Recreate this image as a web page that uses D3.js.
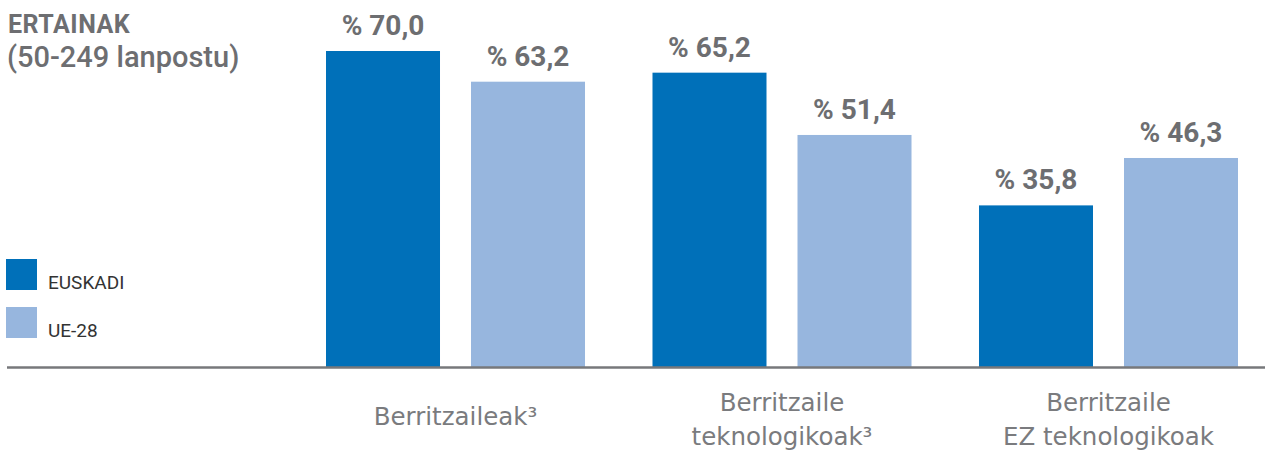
<!DOCTYPE html>
<html>
<head>
<meta charset="utf-8">
<script src="https://cdn.jsdelivr.net/npm/d3@7"></script>
<style>
  body { margin: 0; background: #fff; }
  svg { display: block; }
</style>
</head>
<body>
<div id="chart"></div>
<script>
const categories = ["Berritzaileak³", "Berritzaile\nteknologikoak³", "Berritzaile\nEZ teknologikoak"];
const series = ["EUSKADI", "UE-28"];
const euskadi = [70.0, 65.2, 35.8];
const ue28 = [63.2, 51.4, 46.3];
const colors = ["#0070b9", "#97b6de"];
const title = "ERTAINAK";
const subtitle = "(50-249 lanpostu)";

const width = 1265;
const height = 450;
const baseY = 367;
const grey = "#6d6e71";
const roboto = "Roboto, 'DejaVu Sans', sans-serif";

const rows = categories.map((c, i) => ({
  category: c,
  values: [
    { key: series[0], value: euskadi[i] },
    { key: series[1], value: ue28[i] },
  ],
}));

const svg = d3
  .select("#chart")
  .append("svg")
  .attr("width", width)
  .attr("height", height)
  .style("font-family", roboto);

const x0 = d3
  .scaleBand()
  .domain(categories)
  .range([326, 1238])
  .paddingInner(0.2067)
  .paddingOuter(0);

const x1 = d3
  .scaleBand()
  .domain(series)
  .range([0, x0.bandwidth()])
  .paddingInner(0.2138)
  .paddingOuter(0);

const y = d3.scaleLinear().domain([0, 70]).range([baseY, 51]);

const color = d3.scaleOrdinal().domain(series).range(colors);

const fmt = (v) => "% " + d3.format(".1f")(v).replace(".", ",");

// bars
const group = svg
  .append("g")
  .selectAll("g")
  .data(rows)
  .join("g")
  .attr("transform", (d) => `translate(${x0(d.category)},0)`);

group
  .selectAll("rect")
  .data((d) => d.values)
  .join("rect")
  .attr("x", (d) => x1(d.key))
  .attr("y", (d) => y(d.value))
  .attr("width", x1.bandwidth())
  .attr("height", (d) => y(0) - y(d.value))
  .attr("fill", (d) => color(d.key));

group
  .selectAll("text.value")
  .data((d) => d.values)
  .join("text")
  .attr("class", "value")
  .attr("x", (d) => x1(d.key) + x1.bandwidth() / 2)
  .attr("y", (d) => y(d.value) - 16)
  .attr("text-anchor", "middle")
  .attr("font-size", 28)
  .attr("font-weight", 700)
  .attr("fill", grey)
  .text((d) => fmt(d.value));

// baseline
svg
  .append("line")
  .attr("x1", 7)
  .attr("x2", width)
  .attr("y1", y(0) + 0.5)
  .attr("y2", y(0) + 0.5)
  .attr("stroke", "#77787b")
  .attr("stroke-width", 2.5);

// category labels
svg
  .append("g")
  .selectAll("text")
  .data(categories)
  .join("text")
  .attr("x", (d) => x0(d) + x0.bandwidth() / 2)
  .attr("text-anchor", "middle")
  .style("font-family", "'DejaVu Sans', sans-serif")
  .style("font-weight", 400)
  .attr("font-size", 24.5)
  .attr("fill", "#7a7b7e")
  .each(function (d) {
    const lines = d.split("\n");
    const top = lines.length === 1 ? 425 : 411;
    d3.select(this)
      .selectAll("tspan")
      .data(lines)
      .join("tspan")
      .attr("x", x0(d) + x0.bandwidth() / 2)
      .attr("y", (l, i) => top + i * 34)
      .text((l) => l);
  });

// title
svg
  .append("text")
  .attr("x", 8)
  .attr("y", 33)
  .attr("font-size", 25)
  .attr("font-weight", 700)
  .attr("letter-spacing", 0.5)
  .attr("fill", grey)
  .text(title);

svg
  .append("text")
  .attr("x", 7)
  .attr("y", 67)
  .attr("font-size", 29)
  .attr("font-weight", 500)
  .attr("fill", grey)
  .text(subtitle);

// legend
const legend = svg
  .append("g")
  .selectAll("g")
  .data(series)
  .join("g")
  .attr("transform", (d, i) => `translate(6,${259 + i * 48})`);

legend
  .append("rect")
  .attr("width", 31)
  .attr("height", 31)
  .attr("fill", (d) => color(d));

legend
  .append("text")
  .attr("x", 42)
  .attr("y", 30)
  .attr("font-size", 19)
  .attr("fill", "#333")
  .text((d) => d);
</script>
</body>
</html>
